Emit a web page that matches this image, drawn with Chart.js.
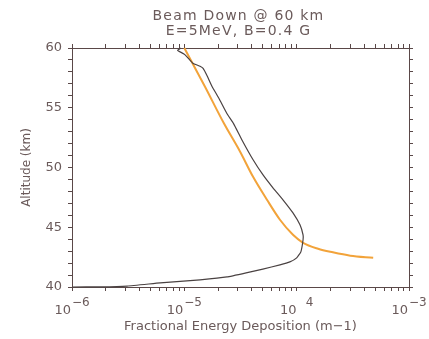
<!DOCTYPE html>
<html><head><meta charset="utf-8">
<script src="https://cdn.jsdelivr.net/npm/chart.js@4/dist/chart.umd.min.js"></script>
<style>html,body{margin:0;padding:0;background:#fff}#wrap{width:429px;height:339px}</style>
</head><body><div id="wrap"><canvas id="c" width="429" height="339"></canvas></div>
<script>
// ---- data ----
const titleLines = ['Beam Down @ 60 km', 'E=5MeV, B=0.4 G'];
const xAxisTitle = 'Fractional Energy Deposition (m\u22121)';
const yAxisTitle = 'Altitude (km)';
const xTickValues = [1e-6, 1e-5, 1e-4, 1e-3];
const xTickExponents = ['\u22126', '\u22125', '\u2002\u20094', '\u22123'];
const xMinorSignificands = [2, 3, 4, 5, 6, 7, 8, 9];
const yMajorStep = 5;
const yMinorStep = 1;

const orangeX = [1.0e-5, 1.52e-5, 2.25e-5, 3.13e-5, 4.08e-5, 5.44e-5, 7.1e-5, 9.27e-5, 1.14e-4, 1.55e-4, 2.1e-4, 3.0e-4, 4.8e-4];
const orangeY = [60, 56.8, 53.7, 51.34, 49.24, 47.3, 45.63, 44.37, 43.7, 43.2, 42.9, 42.62, 42.44];

const blackX = [9.3e-6, 8.7e-6, 9.4e-6, 1.01e-5, 1.19e-5, 1.38e-5, 1.47e-5, 1.59e-5, 1.76e-5, 2.03e-5, 2.4e-5, 2.75e-5, 3.24e-5, 4.08e-5, 5.0e-5, 6.15e-5, 7.55e-5, 9.27e-5, 1.07e-4, 1.14e-4, 1.14e-4, 1.09e-4, 1.0e-4, 8.7e-5, 7.1e-5, 5.0e-5, 3.8e-5, 2.4e-5, 1.38e-5, 6.1e-6, 3.1e-6, 1.8e-6, 1e-6];
const blackY = [60, 59.8, 59.62, 59.45, 58.73, 58.48, 58.3, 57.7, 56.8, 55.8, 54.5, 53.65, 52.35, 50.67, 49.4, 48.3, 47.3, 46.2, 45.2, 44.37, 43.95, 42.94, 42.44, 42.1, 41.85, 41.5, 41.25, 40.84, 40.6, 40.34, 40.08, 40.01, 40];

// ---- styling ----
const TEXT = '#6a5a5a';
const AXIS = '#5a4848';
const FONT = "'DejaVu Sans', sans-serif";

const xAllTicks = [];
xTickValues.forEach((v, i) => {
  xAllTicks.push(v);
  if (i < xTickValues.length - 1) xMinorSignificands.forEach(s => xAllTicks.push(s * v));
});

function setLogTicks(scale) {
  scale.ticks = xAllTicks.map(v => ({ value: v, major: xTickValues.includes(v) }));
}

const pts = (xs, ys) => xs.map((x, i) => ({ x: x, y: ys[i] }));

const decor = {
  id: 'decor',
  afterDraw(chart) {
    const ctx = chart.ctx;
    const xs = chart.scales.x;
    const cx = (chart.chartArea.left + chart.chartArea.right) / 2 - 2;
    ctx.save();
    ctx.fillStyle = TEXT;
    ctx.textBaseline = 'alphabetic';
    // title
    ctx.font = '14px ' + FONT;
    ctx.letterSpacing = '1.2px';
    ctx.textAlign = 'center';
    ctx.fillText(titleLines[0], cx, 20);
    ctx.fillText(titleLines[1], cx, 35);
    // x tick labels with superscripts
    ctx.letterSpacing = '0px';
    ctx.textAlign = 'left';
    xTickValues.forEach((v, i) => {
      const px = xs.getPixelForValue(v);
      ctx.font = '13px ' + FONT;
      const w1 = ctx.measureText('10').width;
      ctx.font = '12px ' + FONT;
      const w2 = ctx.measureText(xTickExponents[i]).width;
      const start = px - (w1 + 1 + w2) / 2;
      ctx.font = '13px ' + FONT;
      ctx.fillText('10', start, 314);
      ctx.font = '12px ' + FONT;
      ctx.fillText(xTickExponents[i], start + w1 + 1, 306);
    });
    ctx.restore();
  }
};

const gridOpts = { drawOnChartArea: false, drawTicks: true, tickLength: 4, color: AXIS, lineWidth: 1 };
const borderOpts = { display: true, color: AXIS, width: 1 };

new Chart(document.getElementById('c'), {
  type: 'scatter',
  data: {
    datasets: [
      { label: 'black', data: pts(blackX, blackY), showLine: true, borderColor: '#4a4242', borderWidth: 1.2, pointRadius: 0, tension: 0.12, clip: false },
      { label: 'orange', data: pts(orangeX, orangeY), showLine: true, borderColor: '#f2a33a', borderWidth: 2, pointRadius: 0, cubicInterpolationMode: 'monotone', clip: false }
    ]
  },
  options: {
    responsive: false,
    animation: false,
    devicePixelRatio: 1,
    layout: { padding: 0 },
    plugins: { legend: { display: false }, title: { display: false }, tooltip: { enabled: false } },
    scales: {
      x: {
        type: 'logarithmic', position: 'bottom', min: 1e-6, max: 1e-3,
        afterBuildTicks: setLogTicks,
        ticks: { autoSkip: false, maxRotation: 0, callback: () => '' },
        grid: gridOpts, border: borderOpts,
        title: { display: true, text: xAxisTitle, color: TEXT, font: { family: FONT, size: 13 }, padding: { top: 0, bottom: 5 } },
        afterFit: s => { s.height = 52; }
      },
      x2: {
        type: 'logarithmic', position: 'top', min: 1e-6, max: 1e-3,
        afterBuildTicks: setLogTicks,
        ticks: { display: false, autoSkip: false },
        grid: gridOpts, border: borderOpts,
        afterFit: s => { s.height = 48; }
      },
      y: {
        type: 'linear', position: 'left', min: 40, max: 60,
        ticks: { stepSize: yMinorStep, autoSkip: false, color: TEXT, padding: 6, font: { family: FONT, size: 13 },
          callback: v => (v % yMajorStep === 0 ? String(v) : '') },
        grid: gridOpts, border: borderOpts,
        title: { display: true, text: yAxisTitle, color: TEXT, font: { family: FONT, size: 12 }, padding: { top: 20, bottom: 0 } },
        afterFit: s => { s.width = 72; }
      },
      y2: {
        type: 'linear', position: 'right', min: 40, max: 60,
        ticks: { display: false, stepSize: yMinorStep, autoSkip: false },
        grid: gridOpts, border: borderOpts,
        afterFit: s => { s.width = 20; }
      }
    }
  },
  plugins: [decor]
});
</script>
</body></html>
